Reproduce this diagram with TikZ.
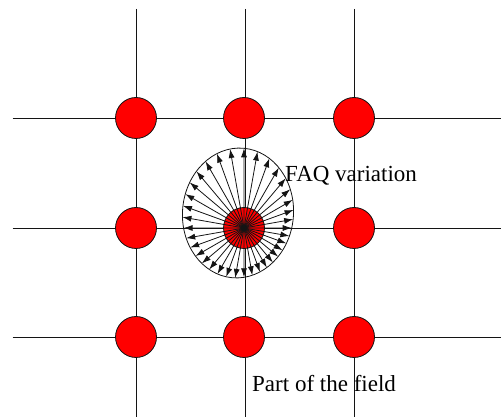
\documentclass[tikz,border=0pt]{standalone}
\usepackage{fontspec}
\setmainfont{Liberation Serif}
\usepackage{tikz}
\usetikzlibrary{arrows.meta,shapes.geometric,intersections}
\definecolor{dotred}{RGB}{255,0,0}
\definecolor{ink}{RGB}{20,20,20}

\begin{document}
\begin{tikzpicture}[x=1pt, y=-1pt,
		gridline/.style={line width=0.9pt, ink},
		dot/.style={circle, fill=dotred, draw=ink, line width=0.8pt, minimum size=41pt, inner sep=0pt},
		spread/.style={draw=ink, ellipse, line width=0.8pt, minimum width=111pt, minimum height=130pt, inner sep=0pt},
		ray/.style={-{Latex[length=9pt,width=6pt]}, line width=0.8pt, ink},
		lbl/.style={inner sep=0pt, font=\fontsize{23}{27}\selectfont}]
		\useasboundingbox (0,0) rectangle (501,419);
		% grid of the field
		\foreach \c [count=\k] in {136,245,354} {
			\coordinate (vt\k) at (\c,9);
			\coordinate (vb\k) at (\c,417);
			\draw[gridline] (vt\k) -- (vb\k);
		}
		\foreach \r [count=\k] in {118,228,337} {
			\coordinate (hl\k) at (12.5,\r);
			\coordinate (hr\k) at (501,\r);
			\draw[gridline] (hl\k) -- (hr\k);
		}
		\node[spread, rotate=-5, name path=rim] (var) at (238,213) {};
		\foreach \c [count=\i] in {136,244,354}
			\foreach \r [count=\j] in {118,228,337}
				\node[dot] (d\i\j) at (\c,\r) {};
		% rays from the middle dot, cut at the rim
		\foreach \a in {0,10,...,350} {
			\path[name path=probe] (d22.center) -- ++(\a:150);
			\path[name intersections={of=rim and probe, by=tip}];
			\draw[ray] (d22.center) -- (tip);
		}
		\node[lbl, anchor=base west] (faq) at (285,182) {FAQ variation};
		\node[lbl, anchor=base west] (part) at (252,392) {Part of the field};
	\end{tikzpicture}
\end{document}
